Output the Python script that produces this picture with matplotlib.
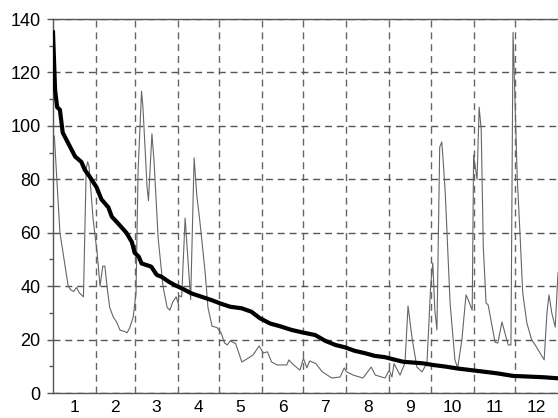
import numpy as np
import matplotlib
matplotlib.use("Agg")
import matplotlib.pyplot as plt

plt.rcParams['font.family'] = ['Liberation Sans', 'DejaVu Sans']

# daily series (day of year, value)
flow_days = [0, 1, 5, 11, 13, 15, 17, 19, 21, 22, 24, 25, 26, 29, 32, 34, 36, 37.5, 39, 41,
             43.5, 46, 48.5, 52, 53.5, 55.5, 58, 60, 61.5, 64, 65, 68, 69, 71.5, 73, 76, 79.5,
             82.5, 84.5, 86.5, 89, 90.5, 91, 93, 95.5, 97.5, 99.5, 102, 104, 106, 110, 112,
             115, 118.5, 121.5, 124, 126, 128, 132, 136.5, 140, 144.5, 149, 152, 155, 158,
             162, 169, 170.5, 172.5, 176.5, 178.5, 181, 183.5, 185.5, 190, 194.5, 201.5,
             207.5, 210.5, 212, 217, 224, 230, 233, 240, 243, 245, 246.5, 250.8, 254.4,
             256.6, 259.5, 263, 266.7, 270.3, 273, 274.5, 276, 277.5, 279.5, 281, 282, 283.5,
             287, 290.5, 292.5, 295.5, 298.5, 300, 303, 304, 306.5, 308, 309.5, 311, 313,
             314.5, 317.5, 319.5, 321.5, 324.5, 326.5, 329, 331, 332.5, 335.5, 337.5, 339.5,
             342.5, 346, 348.5, 352, 355, 357, 358.5, 360.5, 363, 365]
flow_vals = [97, 96, 60, 40, 38.5, 38, 39.5, 37.5, 36.5, 36, 84, 86.5, 85, 65, 52, 40, 47.5,
             47.5, 40, 32, 28.5, 26.5, 23.5, 23, 22.5, 24.5, 28.5, 37.5, 83, 113, 107, 77, 72,
             97, 87, 58, 40, 32, 31, 34, 36, 33.5, 36.5, 36, 65.5, 50, 35, 88, 73.5, 65, 45,
             32, 25, 24.5, 22.5, 18.7, 18, 19.5, 18.5, 11.6, 12.7, 14.2, 17.6, 15, 15.4, 11.6,
             10.5, 10.5, 12.4, 11.2, 9.4, 8.6, 13, 9.4, 12, 11, 8, 5.6, 6, 9.4, 8, 6.7, 5.6,
             9.7, 6.7, 5.6, 8.6, 6, 11, 6.7, 11.2, 32.6, 20.6, 9.7, 7.9, 11.2, 40.4, 48.7, 31,
             23.6, 92, 94, 87, 75, 33.7, 12.4, 9.4, 19.8, 36.7, 35, 31, 89, 80, 107, 98.5,
             54.7, 33.7, 33, 24.7, 19, 18.7, 26.6, 22.8, 18, 18, 135, 81, 60, 37.5, 26.2,
             19.8, 18, 15, 12.4, 30, 36.7, 30, 24.7, 45]

# duration curve (sorted values)
dur_days = [0, 1.5, 3, 5, 7, 10, 13.5, 16, 20.5, 23, 26.5, 31.5, 35, 40, 42.5, 47, 53, 57,
            59, 62, 64, 71, 75, 78.5, 83.5, 88, 93, 100, 107.5, 114.5, 121, 128, 136.5,
            143.5, 149.5, 157, 164, 172.5, 181, 189.5, 196.5, 204, 211, 218, 225.5, 232.5,
            240, 246, 253, 267.5, 274.5, 283.5, 292, 301.5, 311, 320.5, 332.5, 354.5, 365]
dur_vals = [135, 113.5, 107, 106, 97.5, 94.5, 91, 88.5, 86.5, 83.5, 81, 77, 72.5, 69.5, 66,
            63.5, 60, 56.5, 52.5, 51, 48.5, 47.3, 44.2, 43.5, 41.7, 40.4, 39.2, 37.3, 36,
            34.8, 33.5, 32.3, 31.7, 30.4, 28, 26, 25, 23.6, 22.6, 21.7, 19.6, 18, 17.1, 15.8,
            14.9, 13.9, 13.4, 12.6, 11.7, 11.1, 10.5, 9.9, 9.2, 8.6, 8, 7.4, 6.4, 5.9, 5.5]

month_edges = [31, 59, 90, 120, 151, 181, 212, 243, 273, 304, 334]
month_labels = [str(m) for m in range(1, 13)]

fig = plt.figure(figsize=(5.58, 4.18), dpi=100)
ax = fig.add_axes([53/558, 1-393/418, 1-53/558, (393-19)/418])

ax.plot(flow_days, flow_vals, color='#666666', lw=0.8, zorder=3)
ax.plot(dur_days, dur_vals, color='black', lw=3, zorder=4)

ax.set_xlim(0, 365)
ax.set_ylim(0, 140)

edges = [0] + month_edges + [365]
centers = [(a + b) / 2 for a, b in zip(edges[:-1], edges[1:])]
ax.set_xticks(centers)
ax.set_xticklabels(month_labels)
ax.set_xticks(month_edges, minor=True)
ax.tick_params(axis='x', which='both', length=0, pad=5, labelsize=12.5, colors='black')

ax.set_yticks(np.arange(0, 141, 20))
ax.set_yticks(np.arange(10, 140, 20), minor=True)
ax.tick_params(axis='y', which='major', length=4, width=1, color='#555555', labelsize=13, pad=5)
ax.tick_params(axis='y', which='minor', length=3, width=1, color='#555555')

dash = (0, (5, 3.5))
ax.grid(True, axis='y', which='major', color='#555555', lw=1, linestyle=dash)
ax.grid(True, axis='x', which='minor', color='#666666', lw=1, linestyle=dash)

for side in ['left', 'bottom', 'top']:
    ax.spines[side].set_color('#555555')
    ax.spines[side].set_linewidth(1)
ax.spines['right'].set_visible(False)

fig.savefig('out.png', dpi=100)
